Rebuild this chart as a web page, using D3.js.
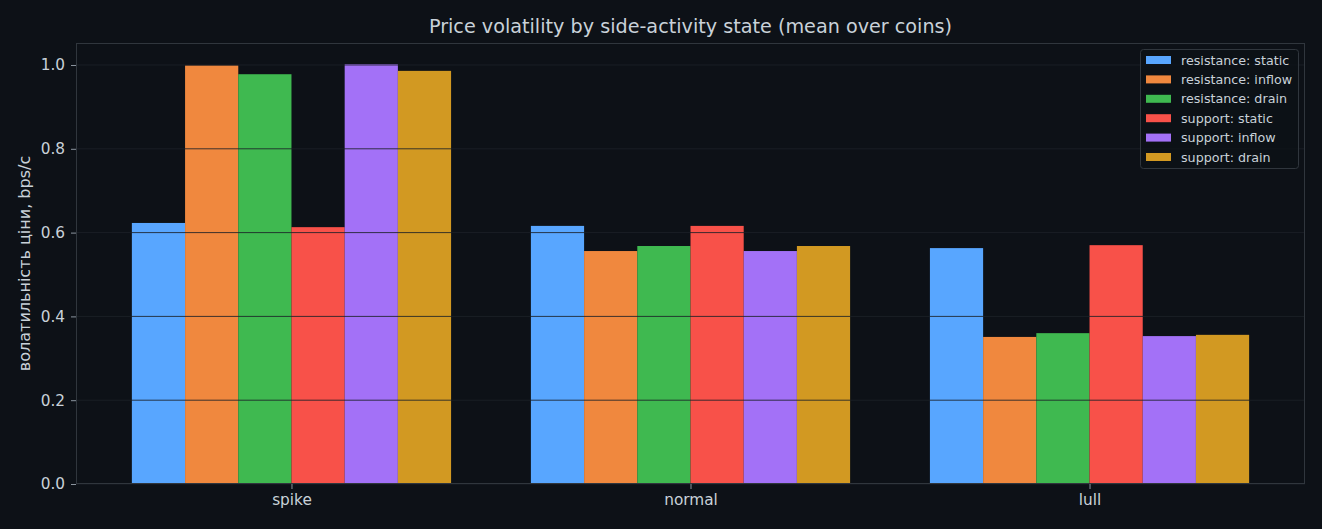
<!DOCTYPE html>
<html>
<head>
<meta charset="utf-8">
<script src="https://cdn.jsdelivr.net/npm/d3@7"></script>
<style>
  body { margin: 0; background: #0d1117; }
  text { font-family: "DejaVu Sans", sans-serif; }
</style>
</head>
<body>
<div id="chart"></div>
<script>
// data
const STATES = ['spike', 'normal', 'lull'];
const SERIES = ['resistance: static', 'resistance: inflow', 'resistance: drain',
                'support: static', 'support: inflow', 'support: drain'];
const COLORS = ['#58a6ff', '#f0883e', '#3fb950', '#f85149', '#a371f7', '#d29922'];
const RES_STATIC = [0.623, 0.616, 0.563];
const RES_INFLOW = [0.999, 0.556, 0.351];
const RES_DRAIN = [0.978, 0.568, 0.360];
const SUP_STATIC = [0.613, 0.616, 0.570];
const SUP_INFLOW = [1.002, 0.556, 0.353];
const SUP_DRAIN = [0.986, 0.568, 0.356];
const Y_TICKS = [0, 0.2, 0.4, 0.6, 0.8, 1.0];

const VALUES = [RES_STATIC, RES_INFLOW, RES_DRAIN, SUP_STATIC, SUP_INFLOW, SUP_DRAIN];

// frame
const FRAME_WIDTH = 1322;
const FRAME_HEIGHT = 529;
const MARGINS = {left: 76, right: 17, top: 43, bottom: 45};
const VIS_WIDTH = FRAME_WIDTH - MARGINS.left - MARGINS.right;
const VIS_HEIGHT = FRAME_HEIGHT - MARGINS.top - MARGINS.bottom;
const BAR_W = 0.8 / SERIES.length;

const svg = d3.select('#chart')
  .append('svg')
  .attr('width', FRAME_WIDTH)
  .attr('height', FRAME_HEIGHT)
  .style('display', 'block')
  .style('background', '#0d1117');

const g = svg.append('g')
  .attr('transform', 'translate(' + MARGINS.left + ',' + MARGINS.top + ')');

// scales (matplotlib-like 5% margins around the bars)
const xScale = d3.scaleLinear().domain([-0.54, 2.54]).range([0, VIS_WIDTH]);
const yScale = d3.scaleLinear().domain([0, 1.0525]).range([VIS_HEIGHT, 0]);

// bars
SERIES.forEach((name, s) => {
  g.selectAll('.bar-' + s)
    .data(VALUES[s])
    .enter()
    .append('rect')
    .attr('x', (d, i) => xScale(i - 0.4 + s * BAR_W))
    .attr('width', xScale(BAR_W) - xScale(0))
    .attr('y', d => yScale(d))
    .attr('height', d => yScale(0) - yScale(d))
    .attr('fill', COLORS[s]);
});

// grid lines (drawn above bars like the reference)
g.selectAll('.grid')
  .data(Y_TICKS)
  .enter()
  .append('line')
  .attr('x1', 0)
  .attr('x2', VIS_WIDTH)
  .attr('y1', d => yScale(d))
  .attr('y2', d => yScale(d))
  .attr('stroke', '#1c2128')
  .attr('stroke-opacity', 0.85)
  .attr('stroke-width', 1);

// axes
const yAxis = g.append('g')
  .call(d3.axisLeft(yScale).tickValues(Y_TICKS).tickFormat(d3.format('.1f')).tickSize(5).tickPadding(6));
const xAxis = g.append('g')
  .attr('transform', 'translate(0,' + VIS_HEIGHT + ')')
  .call(d3.axisBottom(xScale).tickValues([0, 1, 2]).tickFormat(i => STATES[i]).tickSize(5).tickPadding(5));

[xAxis, yAxis].forEach(ax => {
  ax.select('.domain').remove();
  ax.selectAll('line').attr('stroke', '#8b949e');
  ax.selectAll('text')
    .attr('fill', '#c9d1d9')
    .style('font-size', '15.3px')
    .style('font-family', '"DejaVu Sans", sans-serif');
});

// frame
g.append('rect')
  .attr('x', 0.5).attr('y', 0.5)
  .attr('width', VIS_WIDTH - 1).attr('height', VIS_HEIGHT - 1)
  .attr('fill', 'none')
  .attr('stroke', '#30363d');

// title
svg.append('text')
  .attr('x', MARGINS.left + VIS_WIDTH / 2)
  .attr('y', 33)
  .attr('text-anchor', 'middle')
  .attr('fill', '#c9d1d9')
  .style('font-size', '19.2px')
  .text('Price volatility by side-activity state (mean over coins)');

// y label
svg.append('text')
  .attr('transform', 'translate(30,' + (MARGINS.top + VIS_HEIGHT / 2) + ') rotate(-90)')
  .attr('text-anchor', 'middle')
  .attr('fill', '#c9d1d9')
  .style('font-size', '16px')
  .text('волатильність ціни, bps/с');

// legend
const legend = svg.append('g').attr('transform', 'translate(1140,49)');
legend.append('rect')
  .attr('x', 0.5).attr('y', 0.5)
  .attr('width', 158).attr('height', 119)
  .attr('rx', 3)
  .attr('fill', '#0d1117')
  .attr('fill-opacity', 0.8)
  .attr('stroke', '#30363d');

SERIES.forEach((name, s) => {
  const row = legend.append('g').attr('transform', 'translate(0,' + (11 + s * 19.4) + ')');
  row.append('rect')
    .attr('x', 6).attr('y', -4)
    .attr('width', 25).attr('height', 8)
    .attr('fill', COLORS[s]);
  row.append('text')
    .attr('x', 41).attr('y', 4.5)
    .attr('fill', '#c9d1d9')
    .style('font-size', '12.7px')
    .text(name);
});
</script>
</body>
</html>
